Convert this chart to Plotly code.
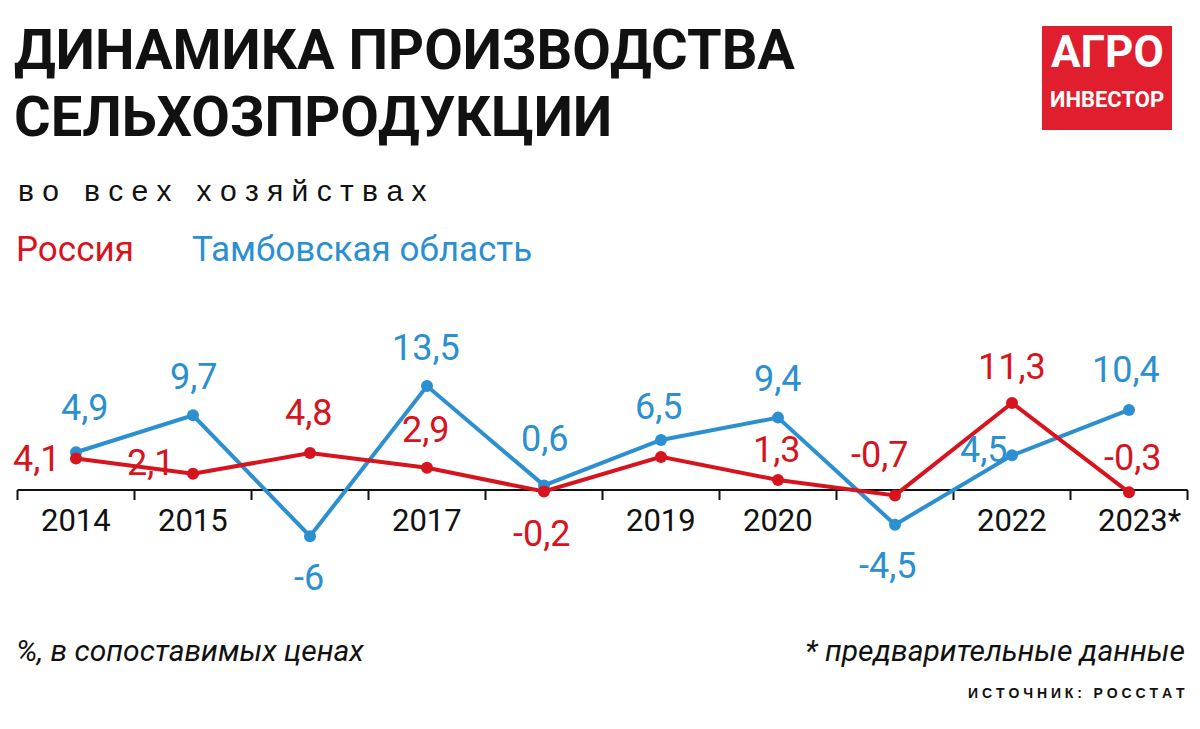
import plotly.graph_objects as go

years = [2014, 2015, 2016, 2017, 2018, 2019, 2020, 2021, 2022, 2023]
year_labels = ["2014", "2015", "", "2017", "", "2019", "2020", "", "2022", "2023*"]
russia = [4.1, 2.1, 4.8, 2.9, -0.2, 4.3, 1.3, -0.7, 11.3, -0.3]
russia_labels = ["4,1", "2,1", "4,8", "2,9", "-0,2", "", "1,3", "-0,7", "11,3", "-0,3"]
tambov = [4.9, 9.7, -6.0, 13.5, 0.6, 6.5, 9.4, -4.5, 4.5, 10.4]
tambov_labels = ["4,9", "9,7", "-6", "13,5", "0,6", "6,5", "9,4", "-4,5", "4,5", "10,4"]

RED = "#d7141e"
BLUE = "#2b8fd0"
FONT = "Liberation Sans Narrow, Roboto, sans-serif"

red_shift = [(-39, -1), (-42, 11), (-1, 40), (-1, 38), (-2, -42), (0, 0), (-1, 30), (-15, 40), (0, 36), (4, 34)]
blue_shift = [(9, 44), (1, 38), (-1, -42), (-1, 38), (1, 46), (-2, 33), (0, 39), (-7, -41), (-28, 5), (-3, 40)]

O = 8  # page margin offset
W, H = 1200 - O, 729 - O
PT, PB = 300, 600  # plot area top/bottom in reference px

fig = go.Figure()
fig.add_trace(go.Scatter(x=years, y=tambov, mode="lines+markers",
                         line=dict(color=BLUE, width=4), marker=dict(size=12, color=BLUE)))
fig.add_trace(go.Scatter(x=years, y=russia, mode="lines+markers",
                         line=dict(color=RED, width=4), marker=dict(size=12, color=RED)))

ann = []
for x, y, t, (dx, dy) in zip(years, russia, russia_labels, red_shift):
    if t:
        ann.append(dict(x=x, y=y, text=t, showarrow=False, xshift=dx, yshift=dy,
                        font=dict(family=FONT, size=36, color=RED)))
for x, y, t, (dx, dy) in zip(years, tambov, tambov_labels, blue_shift):
    ann.append(dict(x=x, y=y, text=t, showarrow=False, xshift=dx, yshift=dy,
                    font=dict(family=FONT, size=36, color=BLUE)))
for x, t in zip(years, year_labels):
    if t:
        ann.append(dict(x=x, y=0, text=t, showarrow=False, yshift=-30,
                        xshift=10 if "*" in t else 0,
                        font=dict(family=FONT, size=31, color="#111")))

def px(x):
    return (x - O) / W

def py(y):
    return (PB - y) / (PB - PT)

shapes = [dict(type="line", x0=years[0] - 0.5, x1=years[-1] + 0.5, y0=0, y1=0,
               line=dict(color="#111", width=2), layer="below")]
for i in range(len(years) + 1):
    xv = years[0] - 0.5 + i
    shapes.append(dict(type="line", x0=xv, x1=xv, y0=0, y1=-1.3,
                       line=dict(color="#111", width=2), layer="below"))
shapes.append(dict(type="rect", xref="paper", yref="paper", x0=px(1042), x1=px(1172),
                   y0=py(130), y1=py(26), fillcolor="#e01e2d", line=dict(width=0)))

def ptxt(x, y, text, size, color="#111", anchor="left", bold=False, italic=False, family=FONT):
    if bold:
        text = "<b>" + text + "</b>"
    if italic:
        text = "<i>" + text + "</i>"
    ann.append(dict(xref="paper", yref="paper", x=px(x), y=py(y), text=text, showarrow=False,
                    xanchor=anchor, yanchor="middle", font=dict(family=family, size=size, color=color)))

ptxt(12, 50, "ДИНАМИКА ПРОИЗВОДСТВА", 56, bold=True)
ptxt(12, 117, "СЕЛЬХОЗПРОДУКЦИИ", 56, bold=True)
ptxt(16, 190, "в о   в с е х   х о з я й с т в а х", 30, family="Liberation Sans, sans-serif")
ptxt(14, 250, "Россия", 35, color=RED)
ptxt(190, 250, "Тамбовская область", 35, color=BLUE)
ptxt(14, 650, "%, в сопоставимых ценах", 30, italic=True)
ptxt(1187, 650, "* предварительные данные", 30, anchor="right", italic=True)
ptxt(1187, 693, "И С Т О Ч Н И К :   Р О С С Т А Т", 14, anchor="right", bold=True, family="Liberation Sans, sans-serif")
ptxt(1107, 52, "АГРО", 44, color="white", anchor="center", bold=True)
ptxt(1107, 100, "ИНВЕСТОР", 22, color="white", anchor="center", bold=True)

zero_px, ppu = 490, 7.7
x_per_px = 1 / 117
fig.update_layout(
    width=W, height=H, margin=dict(l=0, r=0, t=PT - O, b=729 - PB),
    paper_bgcolor="white", plot_bgcolor="white", showlegend=False,
    xaxis=dict(range=[2014 - (76 - O) * x_per_px, 2014 + (1200 - 76) * x_per_px], visible=False),
    yaxis=dict(range=[-(PB - zero_px)/ppu, (zero_px - PT)/ppu], visible=False),
    annotations=ann, shapes=shapes,
)
fig.write_html("out.html")
